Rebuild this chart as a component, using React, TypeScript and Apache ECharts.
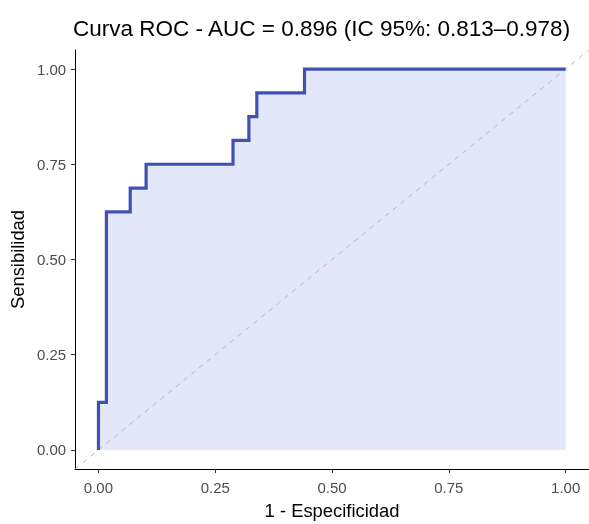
import React, { useEffect, useRef } from "react";
import * as echarts from "echarts";

const titleText = "Curva ROC - AUC = 0.896 (IC 95%: 0.813–0.978)";
const xName = "1 - Especificidad";
const yName = "Sensibilidad";
const tickValues = [0, 0.25, 0.5, 0.75, 1];
// ROC curve vertices (1 - specificity, sensitivity)
const fpr = [0, 0, 0.017, 0.017, 0.068, 0.068, 0.102, 0.102, 0.288, 0.288, 0.322, 0.322, 0.339, 0.339, 0.441, 0.441, 1];
const tpr = [0, 0.125, 0.125, 0.625, 0.625, 0.6875, 0.6875, 0.75, 0.75, 0.8125, 0.8125, 0.875, 0.875, 0.9375, 0.9375, 1, 1];
const diagonal = [-0.05, 1.05];

const FONT = "Liberation Sans, Arial, sans-serif";

export default function App() {
  const ref = useRef<HTMLDivElement>(null);
  useEffect(() => {
    const chart = echarts.init(ref.current!, null, { renderer: "svg" });
    const roc = fpr.map((x, i) => [x, tpr[i]]);
    chart.setOption({
      animation: false,
      title: {
        text: titleText,
        left: 68,
        top: 12,
        textStyle: { fontFamily: FONT, fontSize: 22.5, fontWeight: "normal", color: "#000" },
      },
      grid: { left: 70, right: 0, top: 50, bottom: 51, containLabel: false },
      xAxis: {
        type: "value",
        min: -0.05,
        max: 1.05,
        name: xName,
        nameLocation: "middle",
        nameGap: 32,
        nameTextStyle: { fontFamily: FONT, fontSize: 18.4, color: "#000" },
        axisLine: { show: true, onZero: false, lineStyle: { color: "#000", width: 1 } },
        axisTick: { show: true, length: 4, customValues: tickValues, lineStyle: { color: "#333" } },
        axisLabel: {
          customValues: tickValues,
          formatter: (v: number) => v.toFixed(2),
          fontFamily: FONT,
          fontSize: 15,
          color: "#4d4d4d",
          margin: 11,
        },
        splitLine: { show: false },
      },
      yAxis: {
        type: "value",
        min: -0.05,
        max: 1.05,
        name: yName,
        nameLocation: "middle",
        nameGap: 44,
        nameTextStyle: { fontFamily: FONT, fontSize: 18.4, color: "#000" },
        axisLine: { show: true, onZero: false, lineStyle: { color: "#000", width: 1 } },
        axisTick: { show: true, length: 4, customValues: tickValues, lineStyle: { color: "#333" } },
        axisLabel: {
          customValues: tickValues,
          formatter: (v: number) => v.toFixed(2),
          fontFamily: FONT,
          fontSize: 15,
          color: "#4d4d4d",
          margin: 9,
        },
        splitLine: { show: false },
      },
      series: [
        {
          type: "line",
          data: roc,
          showSymbol: false,
          lineStyle: { width: 0 },
          areaStyle: { color: "#E2E7F9", opacity: 1 },
          silent: true,
          z: 1,
        },
        {
          type: "line",
          data: diagonal.map((v) => [v, v]),
          showSymbol: false,
          lineStyle: { color: "#b8b8b8", width: 1, type: [5, 5] },
          silent: true,
          z: 2,
        },
        {
          type: "line",
          data: roc,
          showSymbol: false,
          lineStyle: { color: "#3F51B5", width: 3.2, join: "miter", cap: "butt" },
          silent: true,
          z: 3,
        },
      ],
    });
    return () => chart.dispose();
  }, []);
  return (
    <div
      ref={ref}
      style={{ position: "fixed", left: 0, top: 0, width: 589, height: 524 }}
    />
  );
}
